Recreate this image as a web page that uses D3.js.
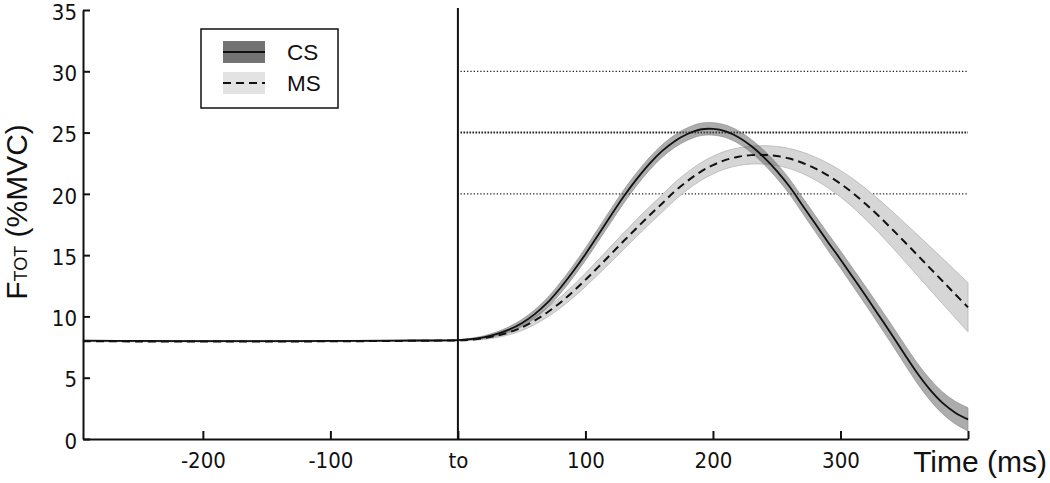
<!DOCTYPE html>
<html>
<head>
<meta charset="utf-8">
<script src="https://cdn.jsdelivr.net/npm/d3@7"></script>
<style>
  html, body { margin: 0; padding: 0; background: #fff; }
  svg { display: block; }
  .tick text { font-family: "DejaVu Sans Condensed", "DejaVu Sans", sans-serif; font-stretch: condensed; font-size: 22px; fill: #111; }
</style>
</head>
<body>
<svg id="chart" width="1050" height="483"></svg>
<script>
// ---- data ----
const times = [-294, -250, -200, -150, -100, -50,
  0, 10, 20, 30, 40, 50, 60, 70, 80, 90,
  100, 110, 120, 130, 140, 150, 160, 170, 180, 190,
  200, 210, 220, 230, 240, 250, 260, 270, 280, 290,
  300, 310, 320, 330, 340, 350, 360, 370, 380, 390, 400];

const csMean = [8.02, 8.0, 7.99, 7.99, 8.0, 8.03,
  8.07, 8.15, 8.3, 8.55, 8.92, 9.45, 10.17, 11.1, 12.28, 13.62,
  15.08, 16.65, 18.23, 19.78, 21.18, 22.43, 23.48, 24.3, 24.88, 25.25,
  25.3, 25.1, 24.62, 23.9, 22.98, 21.88, 20.6, 19.1, 17.6, 16.1,
  14.65, 13.15, 11.65, 10.1, 8.55, 6.95, 5.4, 4.05, 2.95, 2.15, 1.6];

const csErr = [0.03, 0.03, 0.03, 0.03, 0.03, 0.03,
  0.04, 0.07, 0.11, 0.17, 0.23, 0.29, 0.35, 0.4, 0.45, 0.48,
  0.51, 0.53, 0.54, 0.54, 0.53, 0.52, 0.51, 0.51, 0.51, 0.51,
  0.51, 0.51, 0.52, 0.54, 0.57, 0.6, 0.62, 0.64, 0.66, 0.68,
  0.7, 0.72, 0.74, 0.76, 0.78, 0.8, 0.83, 0.86, 0.89, 0.92, 0.95];

const msMean = [7.98, 7.96, 7.95, 7.95, 7.97, 8.0,
  8.05, 8.1, 8.22, 8.42, 8.7, 9.1, 9.65, 10.32, 11.1, 12.0,
  12.98, 14.02, 15.08, 16.15, 17.2, 18.22, 19.2, 20.2, 21.05, 21.78,
  22.35, 22.77, 23.03, 23.16, 23.18, 23.09, 22.88, 22.54, 22.08, 21.51,
  20.83, 20.04, 19.15, 18.19, 17.17, 16.11, 15.04, 13.96, 12.89, 11.81, 10.74];

const msErr = [0.03, 0.03, 0.03, 0.03, 0.03, 0.03,
  0.04, 0.06, 0.1, 0.15, 0.2, 0.26, 0.32, 0.38, 0.44, 0.5,
  0.55, 0.6, 0.64, 0.67, 0.69, 0.7, 0.71, 0.72, 0.72, 0.72,
  0.72, 0.72, 0.72, 0.73, 0.75, 0.78, 0.82, 0.87, 0.93, 1.0,
  1.08, 1.17, 1.26, 1.36, 1.46, 1.56, 1.66, 1.76, 1.85, 1.93, 2.0];

const xTicks = [-200, -100, 0, 100, 200, 300, 400];
const xTickLabels = ["-200", "-100", "to", "100", "200", "300", ""];
const yTicks = [0, 5, 10, 15, 20, 25, 30, 35];
const refLevels = [30, 25, 20];
const seriesNames = ["CS", "MS"];

// ---- layout ----
const svg = d3.select("#chart");
const x = d3.scaleLinear().domain([-294, 400]).range([83, 968]);
const y = d3.scaleLinear().domain([0, 35]).range([439, 10]);

const cs = times.map((t, i) => ({ t, m: csMean[i], e: csErr[i] }));
const ms = times.map((t, i) => ({ t, m: msMean[i], e: msErr[i] }));

const area = d3.area()
  .x(d => x(d.t))
  .y0(d => y(d.m - d.e))
  .y1(d => y(d.m + d.e))
  .curve(d3.curveCatmullRom);
const line = d3.line()
  .x(d => x(d.t))
  .y(d => y(d.m))
  .curve(d3.curveCatmullRom);

// reference dotted lines
const refStyle = { 30: { w: 1.2, dash: "1.3,2" }, 25: { w: 2, dash: "1.6,1.4" }, 20: { w: 1.2, dash: "1.3,2" } };
svg.append("g").selectAll("line")
  .data(refLevels)
  .join("line")
  .attr("x1", x(2))
  .attr("x2", x(400))
  .attr("y1", d => y(d))
  .attr("y2", d => y(d))
  .attr("stroke", "#222")
  .attr("stroke-width", d => refStyle[d].w)
  .attr("stroke-dasharray", d => refStyle[d].dash);

// bands
svg.append("path").datum(ms).attr("d", area)
  .attr("fill", "#d6d6d6").attr("stroke", "#b5b5b5").attr("stroke-width", 0.8);
svg.append("path").datum(cs).attr("d", area)
  .attr("fill", "#5a5a5a").attr("fill-opacity", 0.5)
  .attr("stroke", "#888").attr("stroke-width", 0.6);

// mean lines
svg.append("path").datum(ms).attr("d", line)
  .attr("fill", "none").attr("stroke", "#111").attr("stroke-width", 2)
  .attr("stroke-dasharray", "8,5");
svg.append("path").datum(cs).attr("d", line)
  .attr("fill", "none").attr("stroke", "#111").attr("stroke-width", 1.8);

// axes
const xAxis = d3.axisBottom(x)
  .tickValues(xTicks)
  .tickFormat((d, i) => xTickLabels[i])
  .tickSizeInner(-8).tickSizeOuter(0);
const gx = svg.append("g").attr("transform", `translate(0,${y(0)})`).call(xAxis);
gx.selectAll(".tick text").attr("y", 29).attr("dy", null);

const yAxis = d3.axisLeft(y)
  .tickValues(yTicks)
  .tickSizeInner(-7).tickSizeOuter(0)
  .tickPadding(6);
const gy = svg.append("g").attr("transform", `translate(${x(-294)},0)`).call(yAxis);
gy.selectAll(".tick text").attr("dy", "0.42em");

[gx, gy].forEach(g => {
  g.select(".domain").attr("stroke", "#111").attr("stroke-width", 2);
  g.selectAll(".tick line").attr("stroke", "#111").attr("stroke-width", 2);
});

// stimulus onset line
svg.append("line")
  .attr("x1", x(0)).attr("x2", x(0))
  .attr("y1", 8).attr("y2", y(0))
  .attr("stroke", "#111").attr("stroke-width", 2);

// axis titles
svg.append("text")
  .attr("x", 1047).attr("y", 472)
  .attr("text-anchor", "end")
  .style("font-family", "'Liberation Sans', Arial, sans-serif")
  .style("font-size", "30px").attr("fill", "#111")
  .text("Time (ms)");

const yl = svg.append("text")
  .attr("transform", "translate(27,212) rotate(-90)")
  .attr("text-anchor", "middle")
  .style("font-family", "'Liberation Sans', Arial, sans-serif")
  .attr("fill", "#111");
yl.append("tspan").style("font-size", "30px").text("F");
yl.append("tspan").style("font-size", "18px").text("TOT");
yl.append("tspan").style("font-size", "30px").text(" (%MVC)");

// legend
const lg = svg.append("g");
lg.append("rect")
  .attr("x", 201).attr("y", 29).attr("width", 137).attr("height", 79)
  .attr("fill", "#fff").attr("stroke", "#111").attr("stroke-width", 1.5);
const swatch = [
  { fill: "#737373", dash: null, y: 41 },
  { fill: "#e3e3e3", dash: "8,5", y: 72 }
];
seriesNames.forEach((name, i) => {
  const s = swatch[i];
  lg.append("rect").attr("x", 223).attr("y", s.y).attr("width", 42).attr("height", 22).attr("fill", s.fill);
  lg.append("line").attr("x1", 223).attr("x2", 265)
    .attr("y1", s.y + 11).attr("y2", s.y + 11)
    .attr("stroke", "#111").attr("stroke-width", 2)
    .attr("stroke-dasharray", s.dash);
  lg.append("text").attr("x", 287).attr("y", s.y + 18.5)
    .style("font-family", "'Liberation Sans', Arial, sans-serif")
    .style("font-size", "22.5px").attr("fill", "#111")
    .text(name);
});
</script>
</body>
</html>
